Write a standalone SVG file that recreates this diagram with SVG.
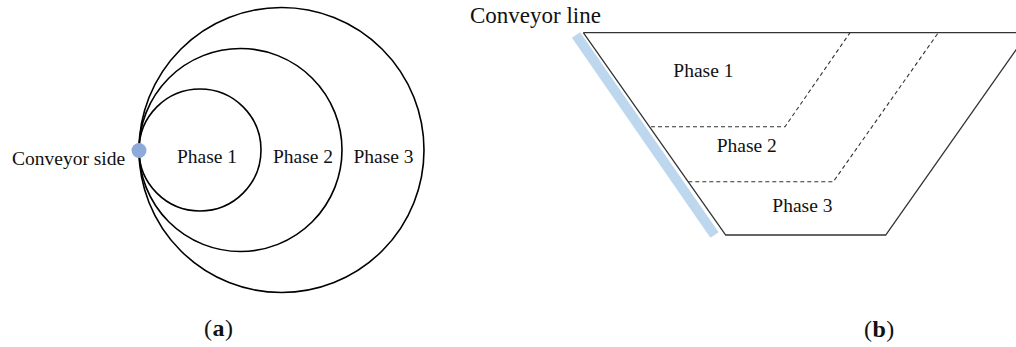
<svg xmlns="http://www.w3.org/2000/svg" width="1016" height="347" viewBox="0 0 1016 347">
  <style>
    .lbl { font-family: "Liberation Serif", "Times New Roman", serif; font-size: 19.5px; fill: #111; }
    .cap { font-family: "Liberation Serif", "Times New Roman", serif; font-size: 24px; fill: #111; letter-spacing: 0.5px; }
    .ring { fill: none; stroke: #000; stroke-width: 1.6; }
    .edge { fill: none; stroke: #333; stroke-width: 1.3; stroke-linejoin: miter; }
    .split { fill: none; stroke: #333; stroke-width: 1.1; stroke-dasharray: 4 3; }
  </style>

  <rect width="1016" height="347" fill="#fff"/>

  <!-- (a) plan view: nested phase circles tangent at the conveyor side -->
  <g id="plan-a">
    <g id="phase3-ring"><circle class="ring" cx="281.5" cy="150" r="142.5"/></g>
    <g id="phase2-ring"><circle class="ring" cx="240.5" cy="150" r="101.5"/></g>
    <g id="phase1-ring"><circle class="ring" cx="200" cy="150" r="61"/></g>
    <g id="conveyor-point"><circle cx="139" cy="150.5" r="7.5" fill="#8EAADB"/></g>
    <text class="lbl" x="12" y="165">Conveyor side</text>
    <text class="lbl" x="177" y="162.5">Phase 1</text>
    <text class="lbl" x="273" y="162.5">Phase 2</text>
    <text class="lbl" x="353.5" y="162.5">Phase 3</text>
    <text class="cap" x="204" y="336">(<tspan font-weight="bold">a</tspan>)</text>
  </g>

  <!-- (b) section view: pit profile with phase boundaries -->
  <g id="section-b">
    <g id="conveyor-line">
      <line x1="576" y1="35" x2="714.5" y2="235" stroke="#BDD7EE" stroke-width="10" stroke-linecap="butt"/>
    </g>
    <g id="pit-outline">
      <polyline class="edge" points="583.3,32.7 1028,32.7 885.7,235 725.7,235 583.3,32.7"/>
    </g>
    <g id="boundaries">
      <polyline class="split" points="651,126.7 785,126.7 850,32.7"/>
      <polyline class="split" points="688.3,181.7 833.3,181.7 938.3,32.7"/>
    </g>
    <text class="lbl" x="470" y="23.3" style="font-size:23px">Conveyor line</text>
    <text class="lbl" x="673.3" y="77.3">Phase 1</text>
    <text class="lbl" x="716.7" y="151.7">Phase 2</text>
    <text class="lbl" x="772.3" y="212.3">Phase 3</text>
    <text class="cap" x="864" y="337">(<tspan font-weight="bold">b</tspan>)</text>
  </g>
</svg>
